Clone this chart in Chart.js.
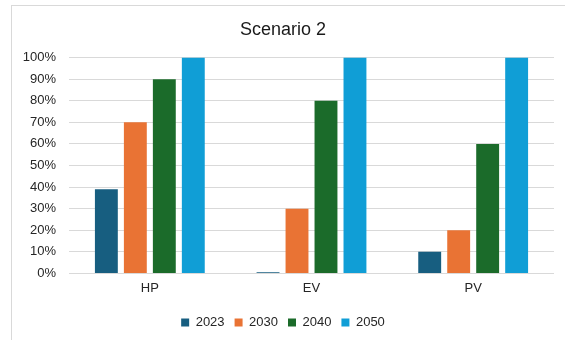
<!DOCTYPE html>
<html>
<head>
<meta charset="utf-8">
<script src="https://cdn.jsdelivr.net/npm/chart.js@4/dist/chart.umd.min.js"></script>
<style>
  html, body { margin: 0; padding: 0; background: #ffffff; }
  #frame {
    position: absolute; left: 11px; top: 5px;
    width: 553px; height: 334px;
    border-left: 1.5px solid #d9d9d9;
    border-top: 1.5px solid #d9d9d9;
    background: #ffffff;
  }
  #wrap { position: absolute; left: 0; top: 0; width: 553px; height: 334px; }
</style>
</head>
<body>
<div id="frame"><div id="wrap"><canvas id="chart"></canvas></div></div>
<script>
// Technology adoption shares per scenario year
const categories = ['HP', 'EV', 'PV'];
const years = ['2023', '2030', '2040', '2050'];
const share2023 = [39, 0.5, 10];
const share2030 = [70, 30, 20];
const share2040 = [90, 80, 60];
const share2050 = [100, 100, 100];
const yTicks = [0, 10, 20, 30, 40, 50, 60, 70, 80, 90, 100];

const colors = ['#175e80', '#e97334', '#1b6b2a', '#109ed6'];
const series = [share2023, share2030, share2040, share2050];

const FONT = "'Liberation Sans', Arial, sans-serif";

new Chart(document.getElementById('chart'), {
  type: 'bar',
  data: {
    labels: categories,
    datasets: years.map((y, i) => ({
      label: y,
      data: series[i],
      backgroundColor: colors[i],
      borderWidth: 0,
      categoryPercentage: 0.717,
      barPercentage: 0.79
    }))
  },
  options: {
    responsive: true,
    maintainAspectRatio: false,
    animation: false,
    layout: { padding: { left: 0, right: 11, top: 0, bottom: 1 } },
    plugins: {
      title: {
        display: true,
        text: 'Scenario 2',
        color: '#1a1a1a',
        font: { family: FONT, size: 18, weight: 'normal' },
        padding: { top: 13, bottom: 17 }
      },
      legend: {
        position: 'bottom',
        labels: {
          color: '#262626',
          font: { family: FONT, size: 13 },
          boxWidth: 8,
          boxHeight: 8,
          padding: 10
        }
      },
      tooltip: { enabled: false }
    },
    scales: {
      x: {
        afterFit: (s) => { s.height += 3; },
        grid: { display: false, drawTicks: false },
        border: { display: false },
        ticks: { color: '#262626', font: { family: FONT, size: 13 }, padding: 7 }
      },
      y: {
        min: 0,
        max: 100,
        afterFit: (s) => { s.width = 57; },
        afterBuildTicks: (s) => { s.ticks = yTicks.map(v => ({ value: v })); },
        grid: { color: '#d9d9d9', lineWidth: 1, drawTicks: false },
        border: { display: false },
        ticks: {
          color: '#262626',
          font: { family: FONT, size: 13 },
          padding: 13,
          callback: (v) => v + '%'
        }
      }
    }
  }
});
</script>
</body>
</html>
